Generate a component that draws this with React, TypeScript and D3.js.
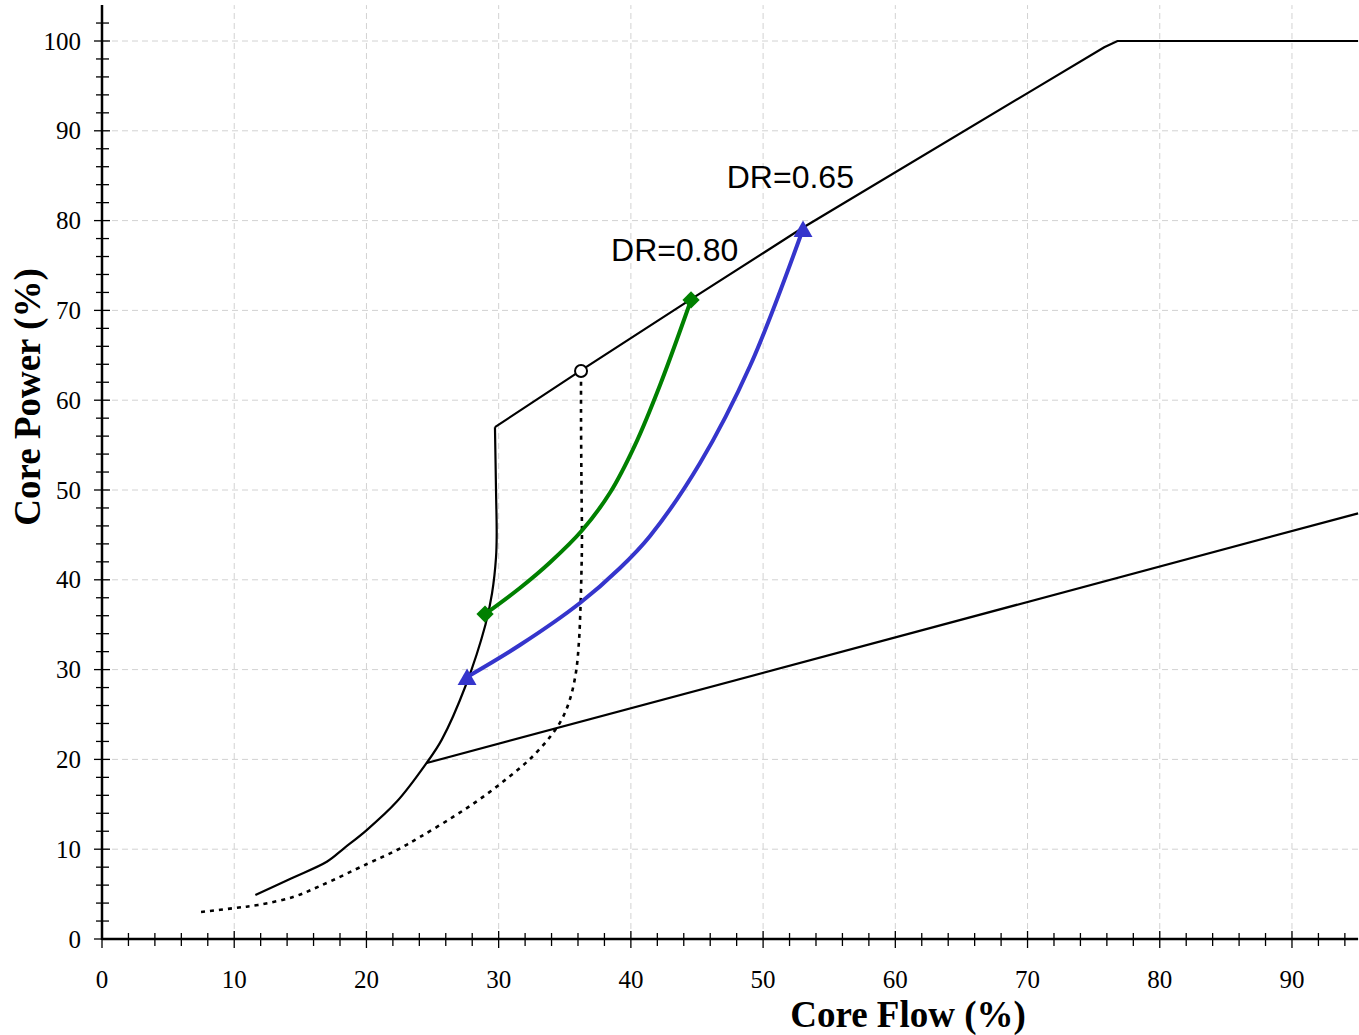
import React from "react";
import * as d3 from "d3";

// ---- data ----
const xMajorTicks = [0, 10, 20, 30, 40, 50, 60, 70, 80, 90];
const yMajorTicks = [0, 10, 20, 30, 40, 50, 60, 70, 80, 90, 100];
const xMinorTicks = d3.range(0, 96, 2);
const yMinorTicks = d3.range(0, 104, 2);

// natural circulation line + vertical limit (black solid)
const ncFlow = [11.6, 14.3, 17.0, 18.3, 20.0, 22.3, 24.5, 25.7, 27.5, 29.0, 29.5, 29.8, 29.85, 29.8, 29.72];
const ncPower = [4.9, 6.75, 8.6, 10.1, 12.1, 15.3, 19.5, 22.2, 28.2, 35.0, 38.5, 42.5, 45.0, 50.0, 57.0];

// rod line
const rodFlow = [29.72, 36.2, 44.5, 53.0, 70.0, 75.8, 76.8, 95.0];
const rodPower = [57.0, 63.3, 71.2, 79.2, 94.2, 99.3, 100.0, 100.0];

// minimum pump speed line
const pumpFlow = [24.55, 95.0];
const pumpPower = [19.6, 47.4];

// dotted line
const dotFlow = [7.49, 10.06, 11.8, 14.45, 16.49, 20.04, 22.31, 24.05, 26.55, 28.59, 30.63, 32.37, 33.88, 34.79, 35.4, 35.85, 36.08, 36.19, 36.26, 36.3, 36.26, 36.23, 36.23];
const dotPower = [3.01, 3.45, 3.79, 4.68, 5.9, 8.35, 9.91, 11.36, 13.59, 15.59, 17.87, 20.04, 22.49, 24.5, 26.73, 29.73, 33.3, 36.97, 40.76, 44.43, 51.11, 57.8, 63.25];

// DR = 0.80 (green)
const dr80Flow = [28.97, 31.61, 33.88, 36.3, 38.42, 40.31, 42.2, 44.55];
const dr80Power = [36.19, 39.09, 41.93, 45.49, 49.69, 55.0, 61.67, 71.16];

// DR = 0.65 (blue)
const dr65Flow = [27.61, 31.61, 36.15, 39.18, 41.45, 45.23, 49.01, 53.02];
const dr65Power = [29.18, 32.74, 37.42, 41.31, 44.88, 53.01, 63.81, 79.06];

const labels = [
  { text: "DR=0.80", flow: 38.5, power: 75.5 },
  { text: "DR=0.65", flow: 47.25, power: 83.6 },
];

const zip = (xs: number[], ys: number[]) => xs.map((x, i) => [x, ys[i]] as [number, number]);

export default function App() {
  const W = 1359, H = 1035;
  const x = d3.scaleLinear().domain([0, 95]).range([102, 102 + 95 * 13.222]);
  const y = d3.scaleLinear().domain([0, 104]).range([939, 939 - 104 * 8.98]);

  const smooth = d3.line<[number, number]>().x(d => x(d[0])).y(d => y(d[1])).curve(d3.curveCatmullRom.alpha(0.5));
  const straight = d3.line<[number, number]>().x(d => x(d[0])).y(d => y(d[1]));

  const tickFont = "'Liberation Serif', 'Times New Roman', serif";
  const labelFont = "'Liberation Sans', Arial, sans-serif";

  const diamond = d3.symbol().type(d3.symbolDiamond2).size(190)();
  const triangle = d3.symbol().type(d3.symbolTriangle).size(155)();

  const g80 = zip(dr80Flow, dr80Power);
  const b65 = zip(dr65Flow, dr65Power);
  const ends80 = [g80[0], g80[g80.length - 1]];
  const ends65 = [b65[0], b65[b65.length - 1]];
  const circlePt: [number, number] = [dotFlow[dotFlow.length - 1], dotPower[dotPower.length - 1]];

  return (
    <div style={{ position: "absolute", left: 0, top: 0 }}>
      <svg width={W} height={H} style={{ display: "block", background: "#fff" }}>
        {/* grid */}
        <g stroke="#d2d2d2" strokeWidth={1} strokeDasharray="6,4">
          {xMajorTicks.filter(t => t > 0).map(t => (
            <line key={"gx" + t} x1={x(t)} x2={x(t)} y1={y(0)} y2={y(104)} />
          ))}
          {yMajorTicks.filter(t => t > 0).map(t => (
            <line key={"gy" + t} x1={x(0)} x2={x(95)} y1={y(t)} y2={y(t)} />
          ))}
        </g>

        <path d={straight(zip(pumpFlow, pumpPower)) || ""} fill="none" stroke="#000" strokeWidth={2.2} />
        <path d={straight(zip(rodFlow, rodPower)) || ""} fill="none" stroke="#000" strokeWidth={2.2} />
        <path d={smooth(zip(ncFlow, ncPower)) || ""} fill="none" stroke="#000" strokeWidth={2.2} />
        <path d={smooth(zip(dotFlow, dotPower)) || ""} fill="none" stroke="#000" strokeWidth={2.6} strokeDasharray="4,5" />

        <path d={smooth(g80) || ""} fill="none" stroke="#008000" strokeWidth={4} />
        <path d={smooth(b65) || ""} fill="none" stroke="#3535cc" strokeWidth={4} />

        {ends80.map((p, i) => (
          <path key={"d" + i} d={diamond || ""} transform={`translate(${x(p[0])},${y(p[1])})`} fill="#008000" />
        ))}
        {ends65.map((p, i) => (
          <path key={"t" + i} d={triangle || ""} transform={`translate(${x(p[0])},${y(p[1]) + 2.5})`} fill="#3535cc" />
        ))}

        <circle cx={x(circlePt[0])} cy={y(circlePt[1])} r={6} fill="#fff" stroke="#000" strokeWidth={2} />

        {labels.map(l => (
          <text key={l.text} x={x(l.flow)} y={y(l.power)} fontFamily={labelFont} fontSize={32} fill="#000">{l.text}</text>
        ))}

        {/* axes */}
        <g stroke="#000">
          <line x1={x(0)} x2={x(95)} y1={y(0)} y2={y(0)} strokeWidth={2.5} />
          <line x1={x(0)} x2={x(0)} y1={y(0) + 1} y2={y(104)} strokeWidth={2.5} />
          {xMinorTicks.map(t => (
            <line key={"xt" + t} x1={x(t)} x2={x(t)} y1={t % 10 === 0 ? y(0) - 8 : y(0) - 6} y2={t % 10 === 0 ? y(0) + 9 : y(0) + 7} strokeWidth={1.3} />
          ))}
          {yMinorTicks.map(t => (
            <line key={"yt" + t} y1={y(t)} y2={y(t)} x1={t % 10 === 0 ? x(0) - 8 : x(0) - 6} x2={t % 10 === 0 ? x(0) + 8 : x(0) + 7} strokeWidth={1.3} />
          ))}
        </g>
        <g fontFamily={tickFont} fontSize={25} fill="#000">
          {xMajorTicks.map(t => (
            <text key={"xl" + t} x={x(t)} y={988} textAnchor="middle">{t}</text>
          ))}
          {yMajorTicks.map(t => (
            <text key={"yl" + t} x={81} y={y(t) + 8.5} textAnchor="end">{t}</text>
          ))}
        </g>
        <text x={908} y={1027} textAnchor="middle" fontFamily={tickFont} fontWeight="bold" fontSize={37}>Core Flow (%)</text>
        <text transform={`translate(40,397) rotate(-90)`} textAnchor="middle" fontFamily={tickFont} fontWeight="bold" fontSize={37}>Core Power (%)</text>
      </svg>
    </div>
  );
}
